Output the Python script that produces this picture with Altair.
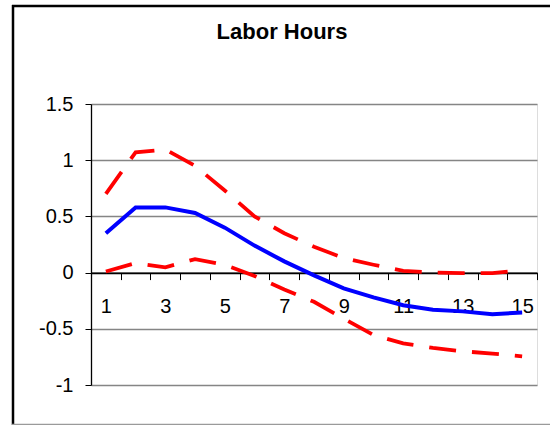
import altair as alt
import pandas as pd

# Impulse response of labor hours with its confidence band
periods = list(range(1, 16))
response = [0.35, 0.58, 0.58, 0.53, 0.40, 0.24, 0.10, -0.025, -0.14, -0.22,
            -0.29, -0.33, -0.345, -0.37, -0.355]
upper = [0.70, 1.07, 1.095, 0.95, 0.73, 0.50, 0.35, 0.23, 0.13, 0.07,
         0.015, 0.0, -0.005, -0.005, 0.02]
lower = [0.01, 0.085, 0.047, 0.12, 0.07, -0.03, -0.15, -0.26, -0.41, -0.555,
         -0.63, -0.67, -0.70, -0.72, -0.745]

y_ticks = [-1, -0.5, 0, 0.5, 1, 1.5]
x_ticks = [i / 2 for i in range(1, 32)]  # band edges and category centres
chart_title = "Labor Hours"

series_names = ["Response", "Upper", "Lower"]
df = pd.DataFrame({
    "period": periods * 3,
    "value": response + upper + lower,
    "series": sum([[s] * len(periods) for s in series_names], []),
})

FONT = "Liberation Sans"
W, H = 446, 281
Y_MIN, Y_MAX = -1, 1.5
zero_offset = -H * (0 - Y_MIN) / (Y_MAX - Y_MIN)

x_enc = alt.X(
    "period:Q",
    scale=alt.Scale(domain=[0.5, 15.5], nice=False, zero=False),
    axis=alt.Axis(
        values=x_ticks,
        title=None,
        grid=False,
        offset=zero_offset,
        domainColor="black",
        domainWidth=1.3,
        tickColor="black",
        tickSize=7,
        tickWidth=1,
        tickOpacity={"condition": {"test": "datum.value % 1 == 0", "value": 0}, "value": 1},
        labelExpr="datum.value % 2 == 1 ? datum.value + '' : ''",
        labelOverlap=False,
        labelFlush=False,
        labelFont=FONT,
        labelFontSize=20,
        labelColor="black",
        labelPadding=17,
    ),
)

y_enc = alt.Y(
    "value:Q",
    scale=alt.Scale(domain=[Y_MIN, Y_MAX], nice=False, zero=False),
    axis=alt.Axis(
        values=y_ticks,
        title=None,
        grid=True,
        gridColor={"condition": {"test": "datum.value == 0", "value": "black"}, "value": "#858585"},
        gridWidth=1.3,
        domainColor="black",
        domainWidth=1.3,
        tickColor="black",
        tickSize=6,
        labelExpr="datum.value + ''",
        labelFont=FONT,
        labelFontSize=20,
        labelColor="black",
        labelPadding=12,
    ),
)

base = alt.Chart(df).encode(x=x_enc, y=y_enc)

response_line = base.transform_filter(
    alt.datum.series == "Response"
).mark_line(color="#0000ff", strokeWidth=4)

band_lines = base.transform_filter(
    alt.datum.series != "Response"
).mark_line(color="#ff0000", strokeWidth=3.8, strokeDash=[27, 16]).encode(
    detail="series:N"
)

one = pd.DataFrame({"f": [0]})

# chart heading, centred over the whole framed area
heading = alt.Chart(one).mark_text(
    text=chart_title, font=FONT, fontSize=22, fontWeight="bold",
    color="black", align="center", baseline="middle",
).encode(x=alt.value(191), y=alt.value(-72))

# outer chart frame: top, left and bottom edges
frame_style = dict(color="black", strokeWidth=2.5)
frame_top = alt.Chart(one).mark_rule(**frame_style).encode(
    x=alt.value(-79), x2=alt.value(470), y=alt.value(-98)
)
frame_left = alt.Chart(one).mark_rule(**frame_style).encode(
    x=alt.value(-78), y=alt.value(-99), y2=alt.value(330)
)
frame_bottom = alt.Chart(one).mark_rule(color="#9a9a9a", strokeWidth=1.5).encode(
    x=alt.value(-79), x2=alt.value(470), y=alt.value(320.5)
)

chart = alt.layer(
    response_line, band_lines, heading, frame_top, frame_left, frame_bottom
).properties(
    width=W,
    height=H,
    autosize=alt.AutoSizeParams(type="none"),
    padding={"left": 91, "top": 104, "right": 13, "bottom": 40},
).configure_view(
    stroke="#8a8a8a", strokeWidth=2.5
).configure(background="white")

chart.save("out.html", embed_options={"renderer": "svg", "actions": False})
